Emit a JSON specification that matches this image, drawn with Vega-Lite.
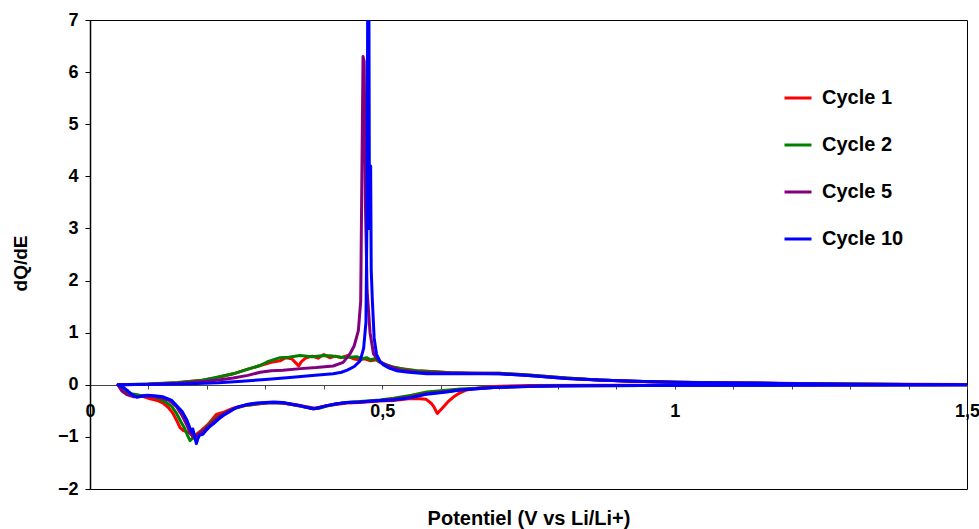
{
  "$schema": "https://vega.github.io/schema/vega-lite/v6.json",
  "width": 877,
  "height": 469,
  "autosize": "none",
  "padding": {"left": 90, "top": 20, "right": 12, "bottom": 40},
  "background": "white",
  "config": {
    "view": {"stroke": "black", "strokeWidth": 1},
    "font": "Liberation Sans"
  },
  "data": {
    "values": [
      {"c":"Cycle 1","i":1,"v":1.5,"q":0},{"c":"Cycle 1","i":2,"v":1.2,"q":-0.005},{"c":"Cycle 1","i":3,"v":0.9,"q":-0.01},{"c":"Cycle 1","i":4,"v":0.75,"q":-0.012},{"c":"Cycle 1","i":5,"v":0.7,"q":-0.03},{"c":"Cycle 1","i":6,"v":0.67,"q":-0.05},{"c":"Cycle 1","i":7,"v":0.644,"q":-0.1},{"c":"Cycle 1","i":8,"v":0.632,"q":-0.16},{"c":"Cycle 1","i":9,"v":0.621,"q":-0.24},{"c":"Cycle 1","i":10,"v":0.612,"q":-0.33},{"c":"Cycle 1","i":11,"v":0.604,"q":-0.43},{"c":"Cycle 1","i":12,"v":0.594,"q":-0.55},{"c":"Cycle 1","i":13,"v":0.588,"q":-0.42},{"c":"Cycle 1","i":14,"v":0.584,"q":-0.36},{"c":"Cycle 1","i":15,"v":0.575,"q":-0.28},{"c":"Cycle 1","i":16,"v":0.564,"q":-0.27},{"c":"Cycle 1","i":17,"v":0.545,"q":-0.27},{"c":"Cycle 1","i":18,"v":0.519,"q":-0.3},{"c":"Cycle 1","i":19,"v":0.496,"q":-0.31},{"c":"Cycle 1","i":20,"v":0.46,"q":-0.34},{"c":"Cycle 1","i":21,"v":0.44,"q":-0.35},{"c":"Cycle 1","i":22,"v":0.42,"q":-0.38},{"c":"Cycle 1","i":23,"v":0.4,"q":-0.41},{"c":"Cycle 1","i":24,"v":0.385,"q":-0.45},{"c":"Cycle 1","i":25,"v":0.37,"q":-0.42},{"c":"Cycle 1","i":26,"v":0.35,"q":-0.38},{"c":"Cycle 1","i":27,"v":0.33,"q":-0.35},{"c":"Cycle 1","i":28,"v":0.31,"q":-0.34},{"c":"Cycle 1","i":29,"v":0.285,"q":-0.37},{"c":"Cycle 1","i":30,"v":0.265,"q":-0.4},{"c":"Cycle 1","i":31,"v":0.245,"q":-0.45},{"c":"Cycle 1","i":32,"v":0.23,"q":-0.52},{"c":"Cycle 1","i":33,"v":0.216,"q":-0.57},{"c":"Cycle 1","i":34,"v":0.208,"q":-0.68},{"c":"Cycle 1","i":35,"v":0.2,"q":-0.78},{"c":"Cycle 1","i":36,"v":0.19,"q":-0.88},{"c":"Cycle 1","i":37,"v":0.182,"q":-0.95},{"c":"Cycle 1","i":38,"v":0.177,"q":-1.0},{"c":"Cycle 1","i":39,"v":0.172,"q":-0.93},{"c":"Cycle 1","i":40,"v":0.165,"q":-0.9},{"c":"Cycle 1","i":41,"v":0.16,"q":-0.88},{"c":"Cycle 1","i":42,"v":0.154,"q":-0.82},{"c":"Cycle 1","i":43,"v":0.148,"q":-0.68},{"c":"Cycle 1","i":44,"v":0.142,"q":-0.55},{"c":"Cycle 1","i":45,"v":0.135,"q":-0.45},{"c":"Cycle 1","i":46,"v":0.125,"q":-0.35},{"c":"Cycle 1","i":47,"v":0.115,"q":-0.3},{"c":"Cycle 1","i":48,"v":0.103,"q":-0.27},{"c":"Cycle 1","i":49,"v":0.09,"q":-0.22},{"c":"Cycle 1","i":50,"v":0.08,"q":-0.2},{"c":"Cycle 1","i":51,"v":0.068,"q":-0.18},{"c":"Cycle 1","i":52,"v":0.056,"q":-0.13},{"c":"Cycle 1","i":53,"v":0.048,"q":0},
      {"c":"Cycle 1","i":54,"v":0.1,"q":0.01},{"c":"Cycle 1","i":55,"v":0.15,"q":0.04},{"c":"Cycle 1","i":56,"v":0.188,"q":0.08},{"c":"Cycle 1","i":57,"v":0.215,"q":0.13},{"c":"Cycle 1","i":58,"v":0.245,"q":0.21},{"c":"Cycle 1","i":59,"v":0.27,"q":0.3},{"c":"Cycle 1","i":60,"v":0.291,"q":0.37},{"c":"Cycle 1","i":61,"v":0.31,"q":0.43},{"c":"Cycle 1","i":62,"v":0.325,"q":0.46},{"c":"Cycle 1","i":63,"v":0.335,"q":0.52},{"c":"Cycle 1","i":64,"v":0.345,"q":0.5},{"c":"Cycle 1","i":65,"v":0.352,"q":0.42},{"c":"Cycle 1","i":66,"v":0.357,"q":0.36},{"c":"Cycle 1","i":67,"v":0.362,"q":0.45},{"c":"Cycle 1","i":68,"v":0.37,"q":0.52},{"c":"Cycle 1","i":69,"v":0.38,"q":0.55},{"c":"Cycle 1","i":70,"v":0.39,"q":0.51},{"c":"Cycle 1","i":71,"v":0.4,"q":0.58},{"c":"Cycle 1","i":72,"v":0.41,"q":0.52},{"c":"Cycle 1","i":73,"v":0.42,"q":0.55},{"c":"Cycle 1","i":74,"v":0.43,"q":0.52},{"c":"Cycle 1","i":75,"v":0.44,"q":0.56},{"c":"Cycle 1","i":76,"v":0.45,"q":0.5},{"c":"Cycle 1","i":77,"v":0.46,"q":0.48},{"c":"Cycle 1","i":78,"v":0.47,"q":0.5},{"c":"Cycle 1","i":79,"v":0.48,"q":0.46},{"c":"Cycle 1","i":80,"v":0.49,"q":0.48},{"c":"Cycle 1","i":81,"v":0.496,"q":0.43},{"c":"Cycle 1","i":82,"v":0.51,"q":0.36},{"c":"Cycle 1","i":83,"v":0.519,"q":0.33},{"c":"Cycle 1","i":84,"v":0.54,"q":0.3},{"c":"Cycle 1","i":85,"v":0.559,"q":0.27},{"c":"Cycle 1","i":86,"v":0.59,"q":0.25},{"c":"Cycle 1","i":87,"v":0.616,"q":0.23},{"c":"Cycle 1","i":88,"v":0.65,"q":0.22},{"c":"Cycle 1","i":89,"v":0.7,"q":0.22},{"c":"Cycle 1","i":90,"v":0.75,"q":0.19},{"c":"Cycle 1","i":91,"v":0.815,"q":0.13},{"c":"Cycle 1","i":92,"v":0.87,"q":0.09},{"c":"Cycle 1","i":93,"v":0.93,"q":0.07},{"c":"Cycle 1","i":94,"v":1.0,"q":0.05},{"c":"Cycle 1","i":95,"v":1.1,"q":0.04},{"c":"Cycle 1","i":96,"v":1.21,"q":0.025},{"c":"Cycle 1","i":97,"v":1.3,"q":0.015},{"c":"Cycle 1","i":98,"v":1.4,"q":0.008},{"c":"Cycle 1","i":99,"v":1.5,"q":0.003},

      {"c":"Cycle 2","i":1,"v":1.5,"q":0},{"c":"Cycle 2","i":2,"v":1.2,"q":-0.006},{"c":"Cycle 2","i":3,"v":0.95,"q":-0.012},{"c":"Cycle 2","i":4,"v":0.8,"q":-0.02},{"c":"Cycle 2","i":5,"v":0.69,"q":-0.05},{"c":"Cycle 2","i":6,"v":0.633,"q":-0.08},{"c":"Cycle 2","i":7,"v":0.576,"q":-0.14},{"c":"Cycle 2","i":8,"v":0.55,"q":-0.2},{"c":"Cycle 2","i":9,"v":0.519,"q":-0.26},{"c":"Cycle 2","i":10,"v":0.496,"q":-0.29},{"c":"Cycle 2","i":11,"v":0.462,"q":-0.32},{"c":"Cycle 2","i":12,"v":0.439,"q":-0.34},{"c":"Cycle 2","i":13,"v":0.42,"q":-0.37},{"c":"Cycle 2","i":14,"v":0.405,"q":-0.41},{"c":"Cycle 2","i":15,"v":0.392,"q":-0.45},{"c":"Cycle 2","i":16,"v":0.382,"q":-0.46},{"c":"Cycle 2","i":17,"v":0.37,"q":-0.43},{"c":"Cycle 2","i":18,"v":0.35,"q":-0.39},{"c":"Cycle 2","i":19,"v":0.33,"q":-0.35},{"c":"Cycle 2","i":20,"v":0.31,"q":-0.34},{"c":"Cycle 2","i":21,"v":0.285,"q":-0.37},{"c":"Cycle 2","i":22,"v":0.265,"q":-0.4},{"c":"Cycle 2","i":23,"v":0.248,"q":-0.45},{"c":"Cycle 2","i":24,"v":0.232,"q":-0.54},{"c":"Cycle 2","i":25,"v":0.218,"q":-0.62},{"c":"Cycle 2","i":26,"v":0.205,"q":-0.75},{"c":"Cycle 2","i":27,"v":0.195,"q":-0.86},{"c":"Cycle 2","i":28,"v":0.185,"q":-0.95},{"c":"Cycle 2","i":29,"v":0.176,"q":-1.02},{"c":"Cycle 2","i":30,"v":0.171,"q":-1.07},{"c":"Cycle 2","i":31,"v":0.166,"q":-0.95},{"c":"Cycle 2","i":32,"v":0.162,"q":-0.84},{"c":"Cycle 2","i":33,"v":0.155,"q":-0.7},{"c":"Cycle 2","i":34,"v":0.148,"q":-0.55},{"c":"Cycle 2","i":35,"v":0.14,"q":-0.42},{"c":"Cycle 2","i":36,"v":0.128,"q":-0.32},{"c":"Cycle 2","i":37,"v":0.115,"q":-0.25},{"c":"Cycle 2","i":38,"v":0.1,"q":-0.21},{"c":"Cycle 2","i":39,"v":0.085,"q":-0.2},{"c":"Cycle 2","i":40,"v":0.07,"q":-0.17},{"c":"Cycle 2","i":41,"v":0.058,"q":-0.1},{"c":"Cycle 2","i":42,"v":0.048,"q":0},
      {"c":"Cycle 2","i":43,"v":0.1,"q":0.015},{"c":"Cycle 2","i":44,"v":0.15,"q":0.045},{"c":"Cycle 2","i":45,"v":0.188,"q":0.08},{"c":"Cycle 2","i":46,"v":0.215,"q":0.14},{"c":"Cycle 2","i":47,"v":0.245,"q":0.21},{"c":"Cycle 2","i":48,"v":0.27,"q":0.3},{"c":"Cycle 2","i":49,"v":0.291,"q":0.37},{"c":"Cycle 2","i":50,"v":0.305,"q":0.45},{"c":"Cycle 2","i":51,"v":0.325,"q":0.52},{"c":"Cycle 2","i":52,"v":0.34,"q":0.53},{"c":"Cycle 2","i":53,"v":0.359,"q":0.56},{"c":"Cycle 2","i":54,"v":0.38,"q":0.54},{"c":"Cycle 2","i":55,"v":0.4,"q":0.56},{"c":"Cycle 2","i":56,"v":0.416,"q":0.55},{"c":"Cycle 2","i":57,"v":0.43,"q":0.53},{"c":"Cycle 2","i":58,"v":0.445,"q":0.53},{"c":"Cycle 2","i":59,"v":0.456,"q":0.54},{"c":"Cycle 2","i":60,"v":0.465,"q":0.5},{"c":"Cycle 2","i":61,"v":0.473,"q":0.52},{"c":"Cycle 2","i":62,"v":0.48,"q":0.48},{"c":"Cycle 2","i":63,"v":0.487,"q":0.5},{"c":"Cycle 2","i":64,"v":0.496,"q":0.43},{"c":"Cycle 2","i":65,"v":0.519,"q":0.34},{"c":"Cycle 2","i":66,"v":0.54,"q":0.29},{"c":"Cycle 2","i":67,"v":0.559,"q":0.27},{"c":"Cycle 2","i":68,"v":0.59,"q":0.25},{"c":"Cycle 2","i":69,"v":0.616,"q":0.23},{"c":"Cycle 2","i":70,"v":0.65,"q":0.22},{"c":"Cycle 2","i":71,"v":0.7,"q":0.22},{"c":"Cycle 2","i":72,"v":0.75,"q":0.19},{"c":"Cycle 2","i":73,"v":0.815,"q":0.13},{"c":"Cycle 2","i":74,"v":0.87,"q":0.09},{"c":"Cycle 2","i":75,"v":0.93,"q":0.07},{"c":"Cycle 2","i":76,"v":1.0,"q":0.05},{"c":"Cycle 2","i":77,"v":1.1,"q":0.035},{"c":"Cycle 2","i":78,"v":1.21,"q":0.022},{"c":"Cycle 2","i":79,"v":1.3,"q":0.013},{"c":"Cycle 2","i":80,"v":1.4,"q":0.006},{"c":"Cycle 2","i":81,"v":1.5,"q":0.002},

      {"c":"Cycle 5","i":1,"v":1.5,"q":0},{"c":"Cycle 5","i":2,"v":1.2,"q":-0.006},{"c":"Cycle 5","i":3,"v":0.95,"q":-0.013},{"c":"Cycle 5","i":4,"v":0.8,"q":-0.02},{"c":"Cycle 5","i":5,"v":0.69,"q":-0.05},{"c":"Cycle 5","i":6,"v":0.633,"q":-0.1},{"c":"Cycle 5","i":7,"v":0.576,"q":-0.17},{"c":"Cycle 5","i":8,"v":0.55,"q":-0.23},{"c":"Cycle 5","i":9,"v":0.519,"q":-0.28},{"c":"Cycle 5","i":10,"v":0.496,"q":-0.3},{"c":"Cycle 5","i":11,"v":0.462,"q":-0.33},{"c":"Cycle 5","i":12,"v":0.439,"q":-0.34},{"c":"Cycle 5","i":13,"v":0.42,"q":-0.37},{"c":"Cycle 5","i":14,"v":0.405,"q":-0.4},{"c":"Cycle 5","i":15,"v":0.392,"q":-0.44},{"c":"Cycle 5","i":16,"v":0.382,"q":-0.46},{"c":"Cycle 5","i":17,"v":0.37,"q":-0.43},{"c":"Cycle 5","i":18,"v":0.35,"q":-0.39},{"c":"Cycle 5","i":19,"v":0.33,"q":-0.35},{"c":"Cycle 5","i":20,"v":0.31,"q":-0.34},{"c":"Cycle 5","i":21,"v":0.285,"q":-0.36},{"c":"Cycle 5","i":22,"v":0.265,"q":-0.39},{"c":"Cycle 5","i":23,"v":0.25,"q":-0.44},{"c":"Cycle 5","i":24,"v":0.235,"q":-0.52},{"c":"Cycle 5","i":25,"v":0.22,"q":-0.62},{"c":"Cycle 5","i":26,"v":0.208,"q":-0.74},{"c":"Cycle 5","i":27,"v":0.196,"q":-0.86},{"c":"Cycle 5","i":28,"v":0.186,"q":-0.95},{"c":"Cycle 5","i":29,"v":0.178,"q":-1.02},{"c":"Cycle 5","i":30,"v":0.172,"q":-0.94},{"c":"Cycle 5","i":31,"v":0.166,"q":-0.78},{"c":"Cycle 5","i":32,"v":0.158,"q":-0.6},{"c":"Cycle 5","i":33,"v":0.148,"q":-0.42},{"c":"Cycle 5","i":34,"v":0.135,"q":-0.3},{"c":"Cycle 5","i":35,"v":0.125,"q":-0.26},{"c":"Cycle 5","i":36,"v":0.105,"q":-0.22},{"c":"Cycle 5","i":37,"v":0.091,"q":-0.22},{"c":"Cycle 5","i":38,"v":0.075,"q":-0.23},{"c":"Cycle 5","i":39,"v":0.063,"q":-0.19},{"c":"Cycle 5","i":40,"v":0.054,"q":-0.11},{"c":"Cycle 5","i":41,"v":0.048,"q":0},
      {"c":"Cycle 5","i":42,"v":0.1,"q":0.01},{"c":"Cycle 5","i":43,"v":0.15,"q":0.03},{"c":"Cycle 5","i":44,"v":0.188,"q":0.06},{"c":"Cycle 5","i":45,"v":0.22,"q":0.09},{"c":"Cycle 5","i":46,"v":0.245,"q":0.13},{"c":"Cycle 5","i":47,"v":0.27,"q":0.18},{"c":"Cycle 5","i":48,"v":0.291,"q":0.24},{"c":"Cycle 5","i":49,"v":0.31,"q":0.27},{"c":"Cycle 5","i":50,"v":0.33,"q":0.28},{"c":"Cycle 5","i":51,"v":0.36,"q":0.31},{"c":"Cycle 5","i":52,"v":0.387,"q":0.33},{"c":"Cycle 5","i":53,"v":0.416,"q":0.36},{"c":"Cycle 5","i":54,"v":0.433,"q":0.43},{"c":"Cycle 5","i":55,"v":0.445,"q":0.6},{"c":"Cycle 5","i":56,"v":0.452,"q":0.75},{"c":"Cycle 5","i":57,"v":0.459,"q":1.04},{"c":"Cycle 5","i":58,"v":0.463,"q":1.6},{"c":"Cycle 5","i":59,"v":0.465,"q":4.0},{"c":"Cycle 5","i":60,"v":0.467,"q":6.3},{"c":"Cycle 5","i":61,"v":0.469,"q":6.2},{"c":"Cycle 5","i":62,"v":0.471,"q":3.5},{"c":"Cycle 5","i":63,"v":0.474,"q":1.8},{"c":"Cycle 5","i":64,"v":0.479,"q":1.0},{"c":"Cycle 5","i":65,"v":0.485,"q":0.59},{"c":"Cycle 5","i":66,"v":0.495,"q":0.45},{"c":"Cycle 5","i":67,"v":0.508,"q":0.37},{"c":"Cycle 5","i":68,"v":0.531,"q":0.28},{"c":"Cycle 5","i":69,"v":0.56,"q":0.24},{"c":"Cycle 5","i":70,"v":0.588,"q":0.23},{"c":"Cycle 5","i":71,"v":0.65,"q":0.22},{"c":"Cycle 5","i":72,"v":0.7,"q":0.21},{"c":"Cycle 5","i":73,"v":0.75,"q":0.18},{"c":"Cycle 5","i":74,"v":0.815,"q":0.12},{"c":"Cycle 5","i":75,"v":0.87,"q":0.09},{"c":"Cycle 5","i":76,"v":0.93,"q":0.07},{"c":"Cycle 5","i":77,"v":1.0,"q":0.05},{"c":"Cycle 5","i":78,"v":1.1,"q":0.035},{"c":"Cycle 5","i":79,"v":1.21,"q":0.02},{"c":"Cycle 5","i":80,"v":1.3,"q":0.012},{"c":"Cycle 5","i":81,"v":1.4,"q":0.005},{"c":"Cycle 5","i":82,"v":1.5,"q":0.002},

      {"c":"Cycle 10","i":1,"v":1.5,"q":0},{"c":"Cycle 10","i":2,"v":1.3,"q":-0.005},{"c":"Cycle 10","i":3,"v":1.1,"q":-0.01},{"c":"Cycle 10","i":4,"v":0.95,"q":-0.015},{"c":"Cycle 10","i":5,"v":0.85,"q":-0.02},{"c":"Cycle 10","i":6,"v":0.75,"q":-0.03},{"c":"Cycle 10","i":7,"v":0.69,"q":-0.05},{"c":"Cycle 10","i":8,"v":0.633,"q":-0.1},{"c":"Cycle 10","i":9,"v":0.61,"q":-0.14},{"c":"Cycle 10","i":10,"v":0.576,"q":-0.18},{"c":"Cycle 10","i":11,"v":0.553,"q":-0.24},{"c":"Cycle 10","i":12,"v":0.519,"q":-0.29},{"c":"Cycle 10","i":13,"v":0.496,"q":-0.3},{"c":"Cycle 10","i":14,"v":0.462,"q":-0.33},{"c":"Cycle 10","i":15,"v":0.439,"q":-0.34},{"c":"Cycle 10","i":16,"v":0.42,"q":-0.37},{"c":"Cycle 10","i":17,"v":0.405,"q":-0.4},{"c":"Cycle 10","i":18,"v":0.392,"q":-0.44},{"c":"Cycle 10","i":19,"v":0.382,"q":-0.46},{"c":"Cycle 10","i":20,"v":0.37,"q":-0.43},{"c":"Cycle 10","i":21,"v":0.36,"q":-0.4},{"c":"Cycle 10","i":22,"v":0.348,"q":-0.38},{"c":"Cycle 10","i":23,"v":0.33,"q":-0.34},{"c":"Cycle 10","i":24,"v":0.314,"q":-0.33},{"c":"Cycle 10","i":25,"v":0.3,"q":-0.34},{"c":"Cycle 10","i":26,"v":0.285,"q":-0.35},{"c":"Cycle 10","i":27,"v":0.268,"q":-0.38},{"c":"Cycle 10","i":28,"v":0.251,"q":-0.43},{"c":"Cycle 10","i":29,"v":0.238,"q":-0.52},{"c":"Cycle 10","i":30,"v":0.228,"q":-0.59},{"c":"Cycle 10","i":31,"v":0.22,"q":-0.66},{"c":"Cycle 10","i":32,"v":0.211,"q":-0.75},{"c":"Cycle 10","i":33,"v":0.205,"q":-0.8},{"c":"Cycle 10","i":34,"v":0.199,"q":-0.87},{"c":"Cycle 10","i":35,"v":0.193,"q":-0.95},{"c":"Cycle 10","i":36,"v":0.187,"q":-0.97},{"c":"Cycle 10","i":37,"v":0.184,"q":-1.05},{"c":"Cycle 10","i":38,"v":0.182,"q":-1.13},{"c":"Cycle 10","i":39,"v":0.179,"q":-1.0},{"c":"Cycle 10","i":40,"v":0.176,"q":-0.85},{"c":"Cycle 10","i":41,"v":0.174,"q":-0.91},{"c":"Cycle 10","i":42,"v":0.17,"q":-0.8},{"c":"Cycle 10","i":43,"v":0.165,"q":-0.66},{"c":"Cycle 10","i":44,"v":0.158,"q":-0.52},{"c":"Cycle 10","i":45,"v":0.148,"q":-0.4},{"c":"Cycle 10","i":46,"v":0.14,"q":-0.3},{"c":"Cycle 10","i":47,"v":0.125,"q":-0.23},{"c":"Cycle 10","i":48,"v":0.11,"q":-0.21},{"c":"Cycle 10","i":49,"v":0.097,"q":-0.2},{"c":"Cycle 10","i":50,"v":0.088,"q":-0.22},{"c":"Cycle 10","i":51,"v":0.08,"q":-0.24},{"c":"Cycle 10","i":52,"v":0.072,"q":-0.19},{"c":"Cycle 10","i":53,"v":0.065,"q":-0.12},{"c":"Cycle 10","i":54,"v":0.058,"q":-0.06},{"c":"Cycle 10","i":55,"v":0.052,"q":-0.02},{"c":"Cycle 10","i":56,"v":0.048,"q":0},
      {"c":"Cycle 10","i":57,"v":0.08,"q":0.005},{"c":"Cycle 10","i":58,"v":0.12,"q":0.01},{"c":"Cycle 10","i":59,"v":0.171,"q":0.02},{"c":"Cycle 10","i":60,"v":0.22,"q":0.04},{"c":"Cycle 10","i":61,"v":0.26,"q":0.07},{"c":"Cycle 10","i":62,"v":0.3,"q":0.1},{"c":"Cycle 10","i":63,"v":0.342,"q":0.14},{"c":"Cycle 10","i":64,"v":0.38,"q":0.18},{"c":"Cycle 10","i":65,"v":0.416,"q":0.21},{"c":"Cycle 10","i":66,"v":0.43,"q":0.24},{"c":"Cycle 10","i":67,"v":0.44,"q":0.28},{"c":"Cycle 10","i":68,"v":0.452,"q":0.35},{"c":"Cycle 10","i":69,"v":0.462,"q":0.46},{"c":"Cycle 10","i":70,"v":0.468,"q":0.7},{"c":"Cycle 10","i":71,"v":0.472,"q":1.2},{"c":"Cycle 10","i":72,"v":0.474,"q":3.5},{"c":"Cycle 10","i":73,"v":0.475,"q":7.6},{"c":"Cycle 10","i":74,"v":0.477,"q":7.6},{"c":"Cycle 10","i":75,"v":0.478,"q":3.0},{"c":"Cycle 10","i":76,"v":0.479,"q":3.5},{"c":"Cycle 10","i":77,"v":0.48,"q":4.2},{"c":"Cycle 10","i":78,"v":0.481,"q":2.2},{"c":"Cycle 10","i":79,"v":0.483,"q":1.6},{"c":"Cycle 10","i":80,"v":0.486,"q":0.9},{"c":"Cycle 10","i":81,"v":0.49,"q":0.59},{"c":"Cycle 10","i":82,"v":0.496,"q":0.45},{"c":"Cycle 10","i":83,"v":0.502,"q":0.38},{"c":"Cycle 10","i":84,"v":0.512,"q":0.32},{"c":"Cycle 10","i":85,"v":0.524,"q":0.27},{"c":"Cycle 10","i":86,"v":0.545,"q":0.24},{"c":"Cycle 10","i":87,"v":0.576,"q":0.21},{"c":"Cycle 10","i":88,"v":0.62,"q":0.21},{"c":"Cycle 10","i":89,"v":0.66,"q":0.21},{"c":"Cycle 10","i":90,"v":0.7,"q":0.21},{"c":"Cycle 10","i":91,"v":0.75,"q":0.18},{"c":"Cycle 10","i":92,"v":0.815,"q":0.12},{"c":"Cycle 10","i":93,"v":0.87,"q":0.09},{"c":"Cycle 10","i":94,"v":0.93,"q":0.07},{"c":"Cycle 10","i":95,"v":1.0,"q":0.05},{"c":"Cycle 10","i":96,"v":1.1,"q":0.035},{"c":"Cycle 10","i":97,"v":1.21,"q":0.02},{"c":"Cycle 10","i":98,"v":1.3,"q":0.012},{"c":"Cycle 10","i":99,"v":1.4,"q":0.005},{"c":"Cycle 10","i":100,"v":1.5,"q":0.002}
    ]
  },
  "mark": {"type": "line", "strokeWidth": 3, "clip": true, "strokeJoin": "round"},
  "encoding": {
    "x": {
      "field": "v", "type": "quantitative",
      "scale": {"domain": [0, 1.5], "nice": false, "zero": false},
      "axis": {
        "title": "Potentiel (V vs Li/Li+)",
        "titleFont": "Liberation Sans", "titleFontSize": 20, "titleFontWeight": "bold", "titleColor": "black",
        "titleY": 133, "titleBaseline": "middle",
        "offset": -104,
        "values": [0,0.1,0.2,0.3,0.4,0.5,0.6,0.7,0.8,0.9,1,1.1,1.2,1.3,1.4,1.5],
        "labelExpr": "datum.value == 0 ? '0' : datum.value == 0.5 ? '0,5' : datum.value == 1 ? '1' : datum.value == 1.5 ? '1,5' : ''",
        "labelFont": "Liberation Sans", "labelFontSize": 18, "labelFontWeight": "bold", "labelColor": "black",
        "labelPadding": 13, "labelOverlap": false, "labelBound": false, "labelFlush": false,
        "domainColor": "#444", "domainWidth": 1,
        "tickColor": "#444", "tickSize": 4, "tickWidth": 1,
        "grid": false
      }
    },
    "y": {
      "field": "q", "type": "quantitative",
      "scale": {"domain": [-2, 7], "nice": false, "zero": false},
      "axis": {
        "title": "dQ/dE",
        "titleFont": "Liberation Sans", "titleFontSize": 19, "titleFontWeight": "bold", "titleColor": "black",
        "titleX": -70, "titleY": 243, "titleBaseline": "middle",
        "values": [-2,-1,0,1,2,3,4,5,6,7],
        "labelFont": "Liberation Sans", "labelFontSize": 18, "labelFontWeight": "bold", "labelColor": "black",
        "labelPadding": 7,
        "domainColor": "black", "domainWidth": 1.5,
        "tickColor": "black", "tickSize": 5, "tickWidth": 1,
        "grid": false
      }
    },
    "color": {
      "field": "c", "type": "nominal",
      "scale": {"domain": ["Cycle 1", "Cycle 2", "Cycle 5", "Cycle 10"], "range": ["#FF0000", "#008000", "#800080", "#0000FF"]},
      "legend": {
        "title": null,
        "orient": "none",
        "legendX": 693,
        "legendY": 63,
        "symbolType": "stroke",
        "symbolSize": 729,
        "symbolStrokeWidth": 3,
        "rowPadding": 22,
        "labelOffset": 9,
        "labelFont": "Liberation Sans", "labelFontSize": 20, "labelFontWeight": "bold", "labelColor": "black",
        "labelLimit": 300
      }
    },
    "order": {"field": "i", "type": "quantitative"}
  }
}
